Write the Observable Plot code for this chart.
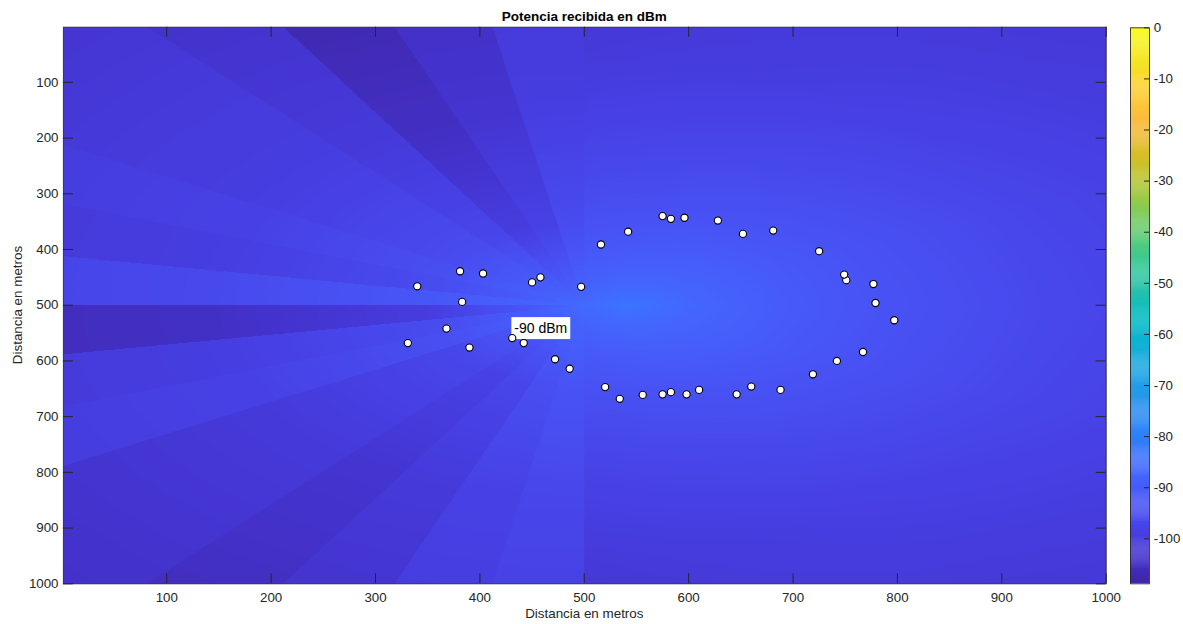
<!DOCTYPE html>
<html><head><meta charset="utf-8">
<script src="https://cdn.jsdelivr.net/npm/d3@7"></script>
<script src="https://cdn.jsdelivr.net/npm/@observablehq/plot@0.6"></script>
<style>
body{margin:0;background:#fff;}
#wrap{position:relative;width:1183px;height:624px;font-family:"Liberation Sans",Arial,Helvetica,sans-serif;color:#262626;overflow:hidden;}
#wrap svg{position:absolute;top:0;}
.lbl{position:absolute;white-space:nowrap;font-size:13.4px;line-height:16px;}
</style></head><body><div id="wrap"></div>
<script>
// ---------- data ----------
const titleText = "Potencia recibida en dBm";
const xLabel = "Distancia en metros";
const yLabel = "Distancia en metros";
const xTicks = [100, 200, 300, 400, 500, 600, 700, 800, 900, 1000];
const yTicks = [100, 200, 300, 400, 500, 600, 700, 800, 900, 1000];
const cbTicks = [0, -10, -20, -30, -40, -50, -60, -70, -80, -90, -100];
const cbDomain = [-108.8, 0];

// measured points (white markers)
const pointX = [340, 381, 403, 450, 458, 497, 383, 368, 331, 390, 431, 442, 472, 486, 520, 534, 556, 575, 583, 598, 610, 646, 660, 688, 719, 742, 767, 797, 779, 777, 751, 749, 725, 681, 652, 628, 596, 583, 575, 542, 516];
const pointY = [466, 439, 443, 459, 450, 467, 494, 542, 568, 576, 559, 568, 597, 614, 647, 668, 661, 660, 656, 660, 652, 660, 646, 652, 624, 600, 584, 527, 496, 462, 455, 445, 403, 366, 372, 348, 343, 345, 340, 368, 391];

// text annotation
const noteX = [433];
const noteY = [542];
const noteText = ["-90 dBm"];

// transmitter position (apex of the radial pattern)
const source = [500, 500];

// left half: 10-degree sectors (start angle, y axis pointing down), dBm at radii
const sectorStart = [90, 100, 110, 120, 130, 140, 150, 160, 170, 180, 190, 200, 210, 220, 230, 240, 250, 260];
const sectorRadii = [0, 40, 150, 350, 720];
const sectorDbm = [
  [-86, -88.5, -93.0, -97.0, -100.0],
  [-86, -89.0, -94.5, -98.5, -101.0],
  [-86, -90.0, -97.0, -101.0, -104.0],
  [-86, -90.5, -98.5, -102.5, -106.0],
  [-86, -90.0, -97.0, -101.0, -104.0],
  [-86, -90.0, -97.0, -101.0, -104.0],
  [-86, -89.0, -94.5, -98.5, -101.0],
  [-86, -89.5, -95.5, -99.5, -102.5],
  [-86, -91.0, -100.0, -104.5, -107.5],
  [-86, -88.0, -92.0, -96.0, -99.0],
  [-86, -89.5, -95.5, -99.5, -102.5],
  [-86, -89.0, -94.5, -98.5, -101.0],
  [-86, -89.5, -95.5, -99.5, -102.5],
  [-86, -89.5, -95.5, -99.5, -102.5],
  [-86, -90.0, -97.0, -101.0, -104.0],
  [-86, -91.0, -100.0, -105.0, -108.8],
  [-86, -90.5, -98.5, -102.5, -106.0],
  [-86, -89.5, -95.5, -99.5, -102.5]
];

// right half: smooth field, dBm by angle and radius
const sideAngles = [-90, -67.5, -45, -22.5, 0, 22.5, 45, 67.5, 90];
const sideRadii = [0, 40, 100, 200, 300, 450, 600, 720];
const sideDbm = [
  [-86, -89.0, -92.0, -95.5, -98.0, -101.0, -102.5, -103.5],
  [-86, -88.0, -91.0, -94.5, -97.0, -100.0, -101.5, -102.5],
  [-86, -86.5, -89.5, -93.0, -95.5, -98.5, -100.5, -101.5],
  [-86, -85.0, -88.0, -91.5, -94.0, -97.0, -99.0, -100.5],
  [-86, -83.0, -87.0, -91.0, -93.5, -96.5, -98.5, -100.0],
  [-86, -85.0, -88.0, -91.5, -94.0, -97.0, -99.0, -100.5],
  [-86, -86.5, -89.5, -93.0, -95.5, -98.5, -100.5, -101.5],
  [-86, -88.0, -91.0, -94.5, -97.0, -100.0, -101.5, -102.5],
  [-86, -89.0, -92.0, -95.5, -98.0, -101.0, -102.5, -103.5]
];

// parula colormap (style)
const PARULA = [[0.2422,0.1504,0.6603],[0.2504,0.1650,0.7076],[0.2578,0.1818,0.7511],[0.2647,0.1978,0.7952],[0.2706,0.2147,0.8364],[0.2751,0.2342,0.8710],[0.2783,0.2559,0.8991],[0.2803,0.2782,0.9221],[0.2813,0.3006,0.9414],[0.2810,0.3228,0.9579],[0.2795,0.3447,0.9717],[0.2760,0.3667,0.9829],[0.2699,0.3892,0.9906],[0.2602,0.4123,0.9952],[0.2440,0.4358,0.9988],[0.2206,0.4603,0.9973],[0.1963,0.4847,0.9892],[0.1834,0.5074,0.9798],[0.1786,0.5289,0.9682],[0.1764,0.5499,0.9520],[0.1687,0.5703,0.9359],[0.1540,0.5902,0.9218],[0.1460,0.6091,0.9079],[0.1380,0.6276,0.8973],[0.1248,0.6459,0.8883],[0.1113,0.6635,0.8763],[0.0952,0.6798,0.8598],[0.0689,0.6948,0.8394],[0.0297,0.7082,0.8163],[0.0036,0.7203,0.7917],[0.0067,0.7312,0.7660],[0.0433,0.7411,0.7394],[0.0964,0.7500,0.7120],[0.1408,0.7584,0.6842],[0.1717,0.7670,0.6554],[0.1938,0.7758,0.6251],[0.2161,0.7843,0.5923],[0.2470,0.7918,0.5567],[0.2906,0.7973,0.5188],[0.3406,0.8008,0.4789],[0.3909,0.8029,0.4354],[0.4456,0.8024,0.3909],[0.5044,0.7993,0.3480],[0.5616,0.7942,0.3045],[0.6174,0.7876,0.2612],[0.6720,0.7793,0.2227],[0.7242,0.7698,0.1910],[0.7738,0.7598,0.1646],[0.8203,0.7498,0.1535],[0.8634,0.7406,0.1596],[0.9035,0.7330,0.1774],[0.9393,0.7288,0.2100],[0.9728,0.7298,0.2394],[0.9956,0.7434,0.2371],[0.9970,0.7659,0.2199],[0.9952,0.7893,0.2028],[0.9892,0.8136,0.1885],[0.9786,0.8386,0.1766],[0.9676,0.8639,0.1643],[0.9610,0.8890,0.1537],[0.9597,0.9135,0.1423],[0.9628,0.9373,0.1265],[0.9691,0.9606,0.1064],[0.9769,0.9839,0.0805]]
  .map(([r,g,b]) => d3.rgb(r*255, g*255, b*255).formatHex());
const parula = d3.piecewise(d3.interpolateRgb, PARULA);

// ---------- lookup of the read tables ----------
function lookup(xs, vs, x) {
  if (x <= xs[0]) return vs[0];
  for (let i = 1; i < xs.length; i++) {
    if (x <= xs[i]) { const t = (x - xs[i-1]) / (xs[i] - xs[i-1]); return vs[i-1] + t * (vs[i] - vs[i-1]); }
  }
  return vs[vs.length - 1];
}
function dbmAt(x, y) {
  const dx = x - source[0], dy = y - source[1];
  const r = Math.hypot(dx, dy);
  let a = Math.atan2(dy, dx) * 180 / Math.PI; if (a < 0) a += 360;
  if (a >= 90 && a < 270) {
    const k = Math.min(sectorStart.length - 1, Math.floor((a - 90) / 10));
    return lookup(sectorRadii, sectorDbm[k], r);
  }
  const t = a > 180 ? a - 360 : a;
  const col = sideRadii.map((_, j) => lookup(sideAngles, sideDbm.map(row => row[j]), t));
  return lookup(sideRadii, col, r);
}

const points = pointX.map((x, i) => ({x, y: pointY[i]}));
const notes = noteX.map((x, i) => ({x, y: noteY[i], text: noteText[i]}));
const colorOpt = {type: "linear", domain: cbDomain, interpolate: parula, clamp: true};
const font = '"Liberation Sans", Arial, Helvetica, sans-serif';
const plain = d => String(d);

// layout
const W = 1110, H = 624, mL = 62.9, mR = 4.3, mT = 26.7, mB = 40.7;
const frameW = W - mL - mR, frameH = H - mT - mB, tickLen = 10;

const main = Plot.plot({
  width: W, height: H,
  marginLeft: mL, marginRight: mR, marginTop: mT, marginBottom: mB,
  x: {domain: [1, 1000], axis: null},
  y: {domain: [1, 1000], reverse: true, axis: null},
  color: colorOpt,
  style: {fontFamily: font, fontSize: "13.3px", color: "#262626", background: "transparent", overflow: "visible"},
  marks: [
    Plot.raster({fill: dbmAt, x1: 1, x2: 1000, y1: 1, y2: 1000, pixelSize: 1}),
    Plot.text(notes, {x: "x", y: "y", text: "text", textAnchor: "start", fontSize: 14, fill: "black"}),
    Plot.dot(points, {x: "x", y: "y", r: 3.6, fill: "white", stroke: "black", strokeWidth: 1.1}),
    // inward ticks on all four sides
    Plot.tickX(xTicks, {x: d => d, insetTop: frameH - tickLen, stroke: "#262626"}),
    Plot.tickX(xTicks, {x: d => d, insetBottom: frameH - tickLen, stroke: "#262626"}),
    Plot.tickY(yTicks, {y: d => d, insetRight: frameW - tickLen, stroke: "#262626"}),
    Plot.tickY(yTicks, {y: d => d, insetLeft: frameW - tickLen, stroke: "#262626"}),
    Plot.axisX(xTicks, {anchor: "bottom", label: null, tickSize: 0, tickPadding: 8.7, tickFormat: plain}),
    Plot.axisY(yTicks, {anchor: "left", label: null, tickSize: 0, tickPadding: 4.9, tickFormat: plain}),
    Plot.frame({stroke: "#262626", strokeOpacity: 0.85})
  ]
});
main.style.left = "0px";

const cbBins = d3.range(cbDomain[0], cbDomain[1], 0.2);
const cbW = 19;
const bar = Plot.plot({
  width: 73, height: H,
  marginLeft: 20, marginRight: 34, marginTop: 27.3, marginBottom: mB,
  y: {domain: cbDomain, axis: null},
  color: colorOpt,
  style: {fontFamily: font, fontSize: "13.3px", color: "#262626", background: "transparent", overflow: "visible"},
  marks: [
    Plot.rect(cbBins, {y1: d => d, y2: d => Math.min(cbDomain[1], d + 0.25), fill: d => d + 0.1}),
    Plot.tickY(cbTicks, {y: d => d, insetLeft: cbW - 5, stroke: "#262626"}),
    Plot.axisY(cbTicks, {anchor: "right", label: null, tickSize: 0, tickPadding: 4.3, tickFormat: plain}),
    Plot.frame({stroke: "#262626", strokeOpacity: 0.85})
  ]
});
bar.style.left = W + "px";

const wrap = document.getElementById("wrap");
wrap.appendChild(main);
wrap.appendChild(bar);

// white background box behind the annotation text
main.querySelectorAll("text").forEach(t => {
  if (noteText.includes(t.textContent)) {
    const b = t.getBBox();
    const rect = document.createElementNS("http://www.w3.org/2000/svg", "rect");
    rect.setAttribute("x", b.x - 3); rect.setAttribute("y", b.y - 3);
    rect.setAttribute("width", b.width + 6); rect.setAttribute("height", b.height + 6);
    rect.setAttribute("fill", "white");
    const tr = t.getAttribute("transform");
    if (tr) rect.setAttribute("transform", tr);
    t.parentNode.insertBefore(rect, t);
  }
});

function addLabel(text, css) {
  const d = document.createElement("div");
  d.className = "lbl"; d.textContent = text;
  Object.assign(d.style, css);
  wrap.appendChild(d);
}
addLabel(titleText, {left: "0px", width: "1168.6px", textAlign: "center", top: "8.7px", fontWeight: "bold", fontSize: "13.5px", color: "#000"});
addLabel(xLabel, {left: "0px", width: "1168.6px", textAlign: "center", top: "606.3px"});
addLabel(yLabel, {left: "18px", top: "305px", transform: "translate(-50%,-50%) rotate(-90deg)"});
</script></body></html>
